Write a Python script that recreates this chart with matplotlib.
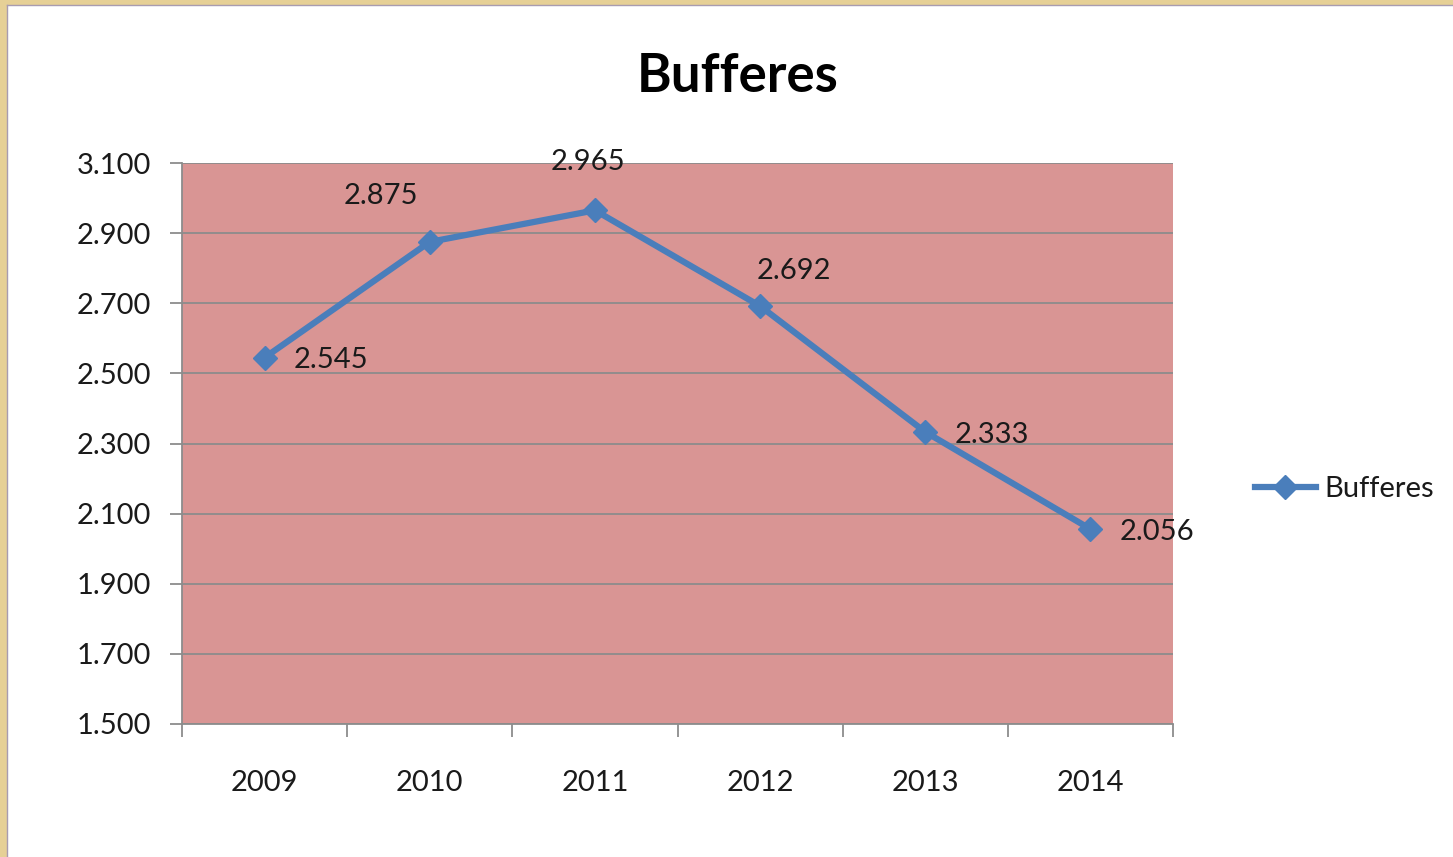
import matplotlib
matplotlib.use("Agg")
import matplotlib.pyplot as plt
from matplotlib.lines import Line2D
from matplotlib.ticker import FuncFormatter, FixedLocator, NullFormatter

years = ["2009", "2010", "2011", "2012", "2013", "2014"]
values = [2545, 2875, 2965, 2692, 2333, 2056]
series_name = "Bufferes"
title = "Bufferes"
y_ticks = [1500, 1700, 1900, 2100, 2300, 2500, 2700, 2900, 3100]

# label offsets in points (styling)
label_offsets = [(21, -2, "left"), (-35, 33, "center"), (-5, 35, "center"),
                 (24, 25, "center"), (21, -2, "left"), (21, -2, "left")]

plt.rcParams['font.family'] = ['Lato', 'DejaVu Sans']

def fmt(v, pos=None):
    s = f"{int(round(v)):,}".replace(",", ".")
    return s

fig = plt.figure(figsize=(14.53, 8.57), dpi=100)
fig.patch.set_facecolor("white")

ax = fig.add_axes([182/1453, 1-724/857, (1173-182)/1453, (724-163)/857])
ax.set_facecolor("#D99594")

line_color = "#4A7EBB"
x = list(range(len(years)))
ax.plot(x, values, color=line_color, lw=4.5, marker="D", markersize=12,
        markerfacecolor=line_color, markeredgecolor=line_color, zorder=3,
        solid_capstyle="round")

ax.set_xlim(-0.5, len(years) - 0.5)
ax.set_ylim(y_ticks[0], y_ticks[-1])
ax.set_yticks(y_ticks)
ax.yaxis.set_major_formatter(FuncFormatter(fmt))
ax.grid(axis="y", color="#8C8C8C", lw=1.3, zorder=1)
ax.set_axisbelow(True)

ax.xaxis.set_major_locator(FixedLocator([i - 0.5 for i in range(len(years) + 1)]))
ax.xaxis.set_major_formatter(NullFormatter())
ax.xaxis.set_minor_locator(FixedLocator(x))
ax.set_xticklabels(years, minor=True)
ax.tick_params(axis="x", which="major", direction="out", length=9, width=1.3, color="#8C8C8C")
ax.tick_params(axis="x", which="minor", length=0, pad=33, labelsize=21, labelcolor="#1a1a1a")
ax.tick_params(axis="y", direction="out", length=9, width=1.3, color="#8C8C8C",
               labelsize=21, labelcolor="#1a1a1a", pad=13)

for side in ["top", "right"]:
    ax.spines[side].set_visible(False)
for side in ["left", "bottom"]:
    ax.spines[side].set_color("#8C8C8C")
    ax.spines[side].set_linewidth(1.3)

for xi, v, (dx, dy, ha) in zip(x, values, label_offsets):
    ax.annotate(fmt(v), (xi, v), xytext=(dx, dy), textcoords="offset points",
                ha=ha, va="center", fontsize=21, color="#1a1a1a")

fig.text(738/1453, 1-77/857, title, ha="center", va="center",
         fontsize=38, fontweight="bold", color="black")

handle = Line2D([], [], color=line_color, lw=4.5, marker="D", markersize=12,
                markerfacecolor=line_color, markeredgecolor=line_color)
fig.legend([handle], [series_name], loc="center left",
           bbox_to_anchor=(1240/1453, 1-489/857), frameon=False,
           fontsize=21, handlelength=2.1, handletextpad=0.3, borderpad=0,
           labelcolor="#1a1a1a")

# decorative frame on left and top edges
fig.add_artist(Line2D([3/1453, 3/1453], [0, 1], transform=fig.transFigure,
                      color="#E6D096", lw=6))
fig.add_artist(Line2D([0, 1], [1-2/857, 1-2/857], transform=fig.transFigure,
                      color="#E6D096", lw=5))
fig.add_artist(Line2D([7/1453, 7/1453], [0, 1-5/857], transform=fig.transFigure,
                      color="#A89CB0", lw=1))
fig.add_artist(Line2D([7/1453, 1], [1-5/857, 1-5/857], transform=fig.transFigure,
                      color="#A89CB0", lw=1))

fig.savefig("out.png", dpi=100)
